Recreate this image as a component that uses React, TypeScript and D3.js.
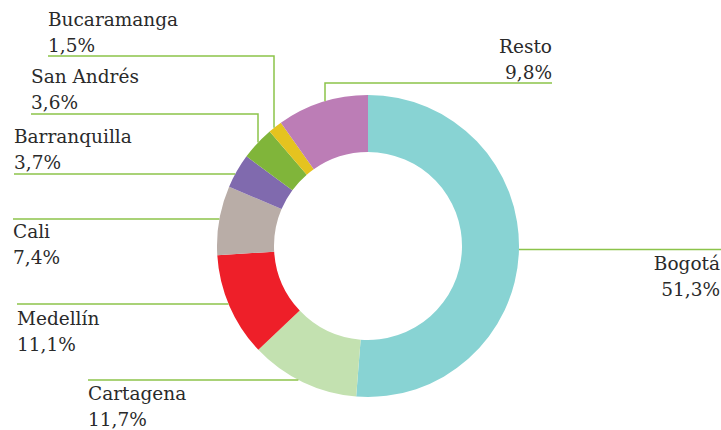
import React from "react";
import * as d3 from "d3";

const categories = ["Bogotá", "Cartagena", "Medellín", "Cali", "Barranquilla", "San Andrés", "Bucaramanga", "Resto"];
const values = [51.3, 11.7, 11.1, 7.4, 3.7, 3.6, 1.5, 9.8];
const valueLabels = ["51,3%", "11,7%", "11,1%", "7,4%", "3,7%", "3,6%", "1,5%", "9,8%"];
const colors = ["#88d3d3", "#c3e1b0", "#ee1f29", "#b9ada7", "#806aae", "#80b53a", "#e5c31f", "#bc7db6"];

// label layout: line y, horizontal extent, optional vertical leader x, text position
type Lay = { ly: number; lx: number; vx?: number; side: "left" | "right"; tx: number; ty: number; anchor: "start" | "end" };
const layout: Lay[] = [
  { ly: 249.5, lx: 721, side: "right", tx: 720, ty: 270, anchor: "end" },
  { ly: 380, lx: 88, side: "left", tx: 88, ty: 400, anchor: "start" },
  { ly: 304, lx: 17, side: "left", tx: 17, ty: 325, anchor: "start" },
  { ly: 219, lx: 13, side: "left", tx: 13, ty: 238, anchor: "start" },
  { ly: 174, lx: 14, side: "left", tx: 14, ty: 143, anchor: "start" },
  { ly: 114, lx: 31, vx: 258, side: "left", tx: 31, ty: 83, anchor: "start" },
  { ly: 56, lx: 48, vx: 274, side: "left", tx: 48, ty: 26, anchor: "start" },
  { ly: 83, lx: 552, vx: 325, side: "right", tx: 552, ty: 53, anchor: "end" },
];

const W = 721, H = 430;
const cx = 368, cy = 246, R = 151, r = 94;

export default function App() {
  const pie = d3.pie<number>().sort(null).value((d) => d);
  const arcs = pie(values);
  const arc = d3.arc<d3.PieArcDatum<number>>().innerRadius(r).outerRadius(R);
  const lineColor = "#8cc34a";
  const textColor = "#2a2a2a";

  return (
    <svg width={W} height={H} style={{ position: "absolute", left: 0, top: 0 }} fontFamily="'DejaVu Serif', serif">
      <g transform={`translate(${cx},${cy})`}>
        {arcs.map((a, i) => (
          <path key={i} d={arc(a) || ""} fill={colors[i]} />
        ))}
      </g>
      {layout.map((l, i) => {
        let pts: [number, number][];
        if (l.vx !== undefined) {
          const dx = l.vx - cx;
          const ey = cy - Math.sqrt(R * R - dx * dx);
          pts = [[l.lx, l.ly], [l.vx, l.ly], [l.vx, ey]];
        } else {
          const dy = l.ly - cy;
          const ex = Math.sqrt(R * R - dy * dy);
          const x = l.side === "left" ? cx - ex : cx + ex;
          pts = [[l.lx, l.ly], [x, l.ly]];
        }
        return (
          <g key={i}>
            <path d={d3.line()(pts) || ""} fill="none" stroke={lineColor} strokeWidth={1.5} />
            <text x={l.tx} y={l.ty} textAnchor={l.anchor} fontSize={18.5} fill={textColor}>
              {categories[i]}
            </text>
            <text x={l.tx} y={l.ty + 26} textAnchor={l.anchor} fontSize={18.5} fill={textColor}>
              {valueLabels[i]}
            </text>
          </g>
        );
      })}
    </svg>
  );
}
